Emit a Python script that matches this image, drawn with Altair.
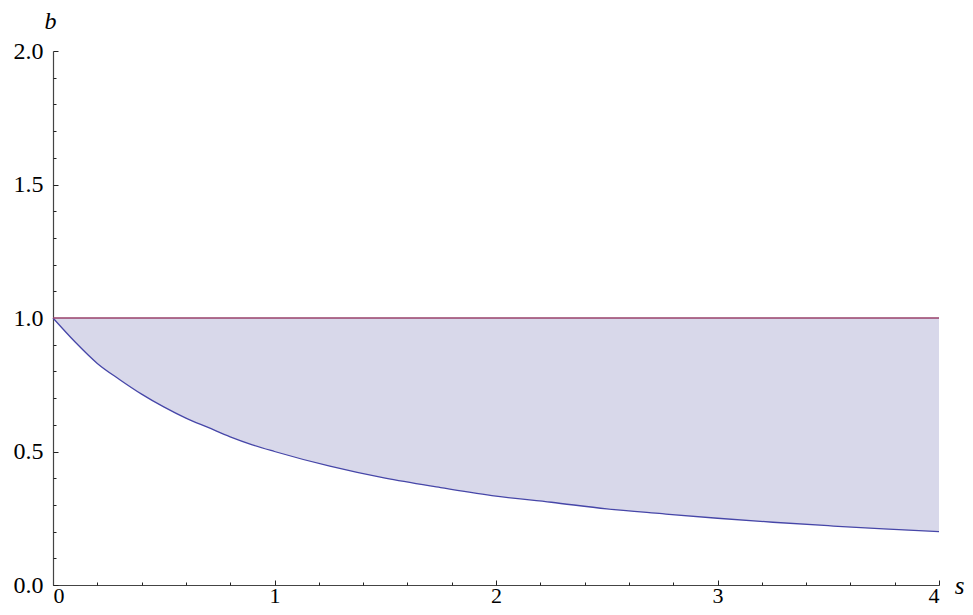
import altair as alt
import pandas as pd

s_vals = [0, 0.1, 0.2, 0.3, 0.4, 0.5, 0.6, 0.7, 0.8, 0.9, 1.0, 1.25, 1.5, 1.75,
          2.0, 2.25, 2.5, 2.75, 3.0, 3.25, 3.5, 3.75, 4.0]
b_lower = [1.0, 0.91, 0.83, 0.77, 0.715, 0.667, 0.625, 0.59, 0.555, 0.525, 0.5,
           0.445, 0.4, 0.365, 0.333, 0.31, 0.285, 0.267, 0.25, 0.235, 0.222, 0.21, 0.2]
b_upper = [1.0] * len(s_vals)

x_major = [0, 1, 2, 3, 4]
x_minor = [0.2, 0.4, 0.6, 0.8, 1.2, 1.4, 1.6, 1.8, 2.2, 2.4, 2.6, 2.8,
           3.2, 3.4, 3.6, 3.8]
y_major = [0.0, 0.5, 1.0, 1.5, 2.0]
y_minor = [0.1, 0.2, 0.3, 0.4, 0.6, 0.7, 0.8, 0.9, 1.1, 1.2, 1.3, 1.4,
           1.6, 1.7, 1.8, 1.9]

df = pd.DataFrame({"s": s_vals, "b": b_lower, "top": b_upper})

W, H = 886, 534
FONT = "Liberation Serif"

xscale = alt.Scale(domain=[0, 4], nice=False, zero=False)
yscale = alt.Scale(domain=[0, 2], nice=False, zero=False)

base = alt.Chart(df)

area = base.mark_area(color="#d8d8ea", opacity=1, interpolate="monotone").encode(
    x=alt.X("s:Q", scale=xscale, axis=alt.Axis(
        values=x_major, ticks=False, format="d", labelFont=FONT, labelFontSize=22,
        labelColor="#000", labelPadding=0, domainColor="#444", domainWidth=1.2,
        grid=False, title="s", titleFont=FONT, titleFontStyle="italic",
        titleFontWeight="normal", titleFontSize=25, titleColor="#000",
        titleX=906, titleY=8, titleBaseline="alphabetic", titleAlign="center")),
    y=alt.Y("b:Q", scale=yscale, axis=alt.Axis(
        values=y_major, ticks=False, format=".1f", labelFont=FONT, labelFontSize=24,
        labelColor="#000", labelPadding=10, domainColor="#444", domainWidth=1.2,
        grid=False, title="b", titleFont=FONT, titleFontStyle="italic",
        titleFontWeight="normal", titleFontSize=24, titleColor="#000",
        titleAngle=0, titleX=-3, titleY=-23, titleBaseline="alphabetic",
        titleAlign="center")),
    y2="top:Q",
)

lower = base.mark_line(color="#4646a8", strokeWidth=1.3, interpolate="monotone").encode(
    x=alt.X("s:Q", scale=xscale, axis=alt.Axis(
        orient="top", offset=-H, values=x_major, labels=False, domain=False,
        grid=False, title=None, ticks=True, tickSize=5, tickColor="#222",
        tickWidth=1)),
    y=alt.Y("b:Q", scale=yscale, axis=alt.Axis(
        orient="right", offset=-W, values=y_major, labels=False, domain=False,
        grid=False, title=None, ticks=True, tickSize=5, tickColor="#222",
        tickWidth=1)),
)

upper = base.mark_line(color="#99406a", strokeWidth=1.5).encode(
    x=alt.X("s:Q", scale=xscale, axis=alt.Axis(
        orient="top", offset=-H, values=x_minor, labels=False, domain=False,
        grid=False, title=None, ticks=True, tickSize=3, tickColor="#222",
        tickWidth=1)),
    y=alt.Y("top:Q", scale=yscale, axis=alt.Axis(
        orient="right", offset=-W, values=y_minor, labels=False, domain=False,
        grid=False, title=None, ticks=True, tickSize=3, tickColor="#222",
        tickWidth=1)),
)

chart = alt.layer(area, lower, upper).resolve_axis(
    x="independent", y="independent"
).properties(
    width=W, height=H,
    background="white",
    autosize=alt.AutoSizeParams(type="none"),
    padding={"left": 45, "top": 43, "right": 26, "bottom": 22},
).configure_view(stroke=None)

chart.save("out.html", embed_options={"renderer": "svg", "actions": False})
